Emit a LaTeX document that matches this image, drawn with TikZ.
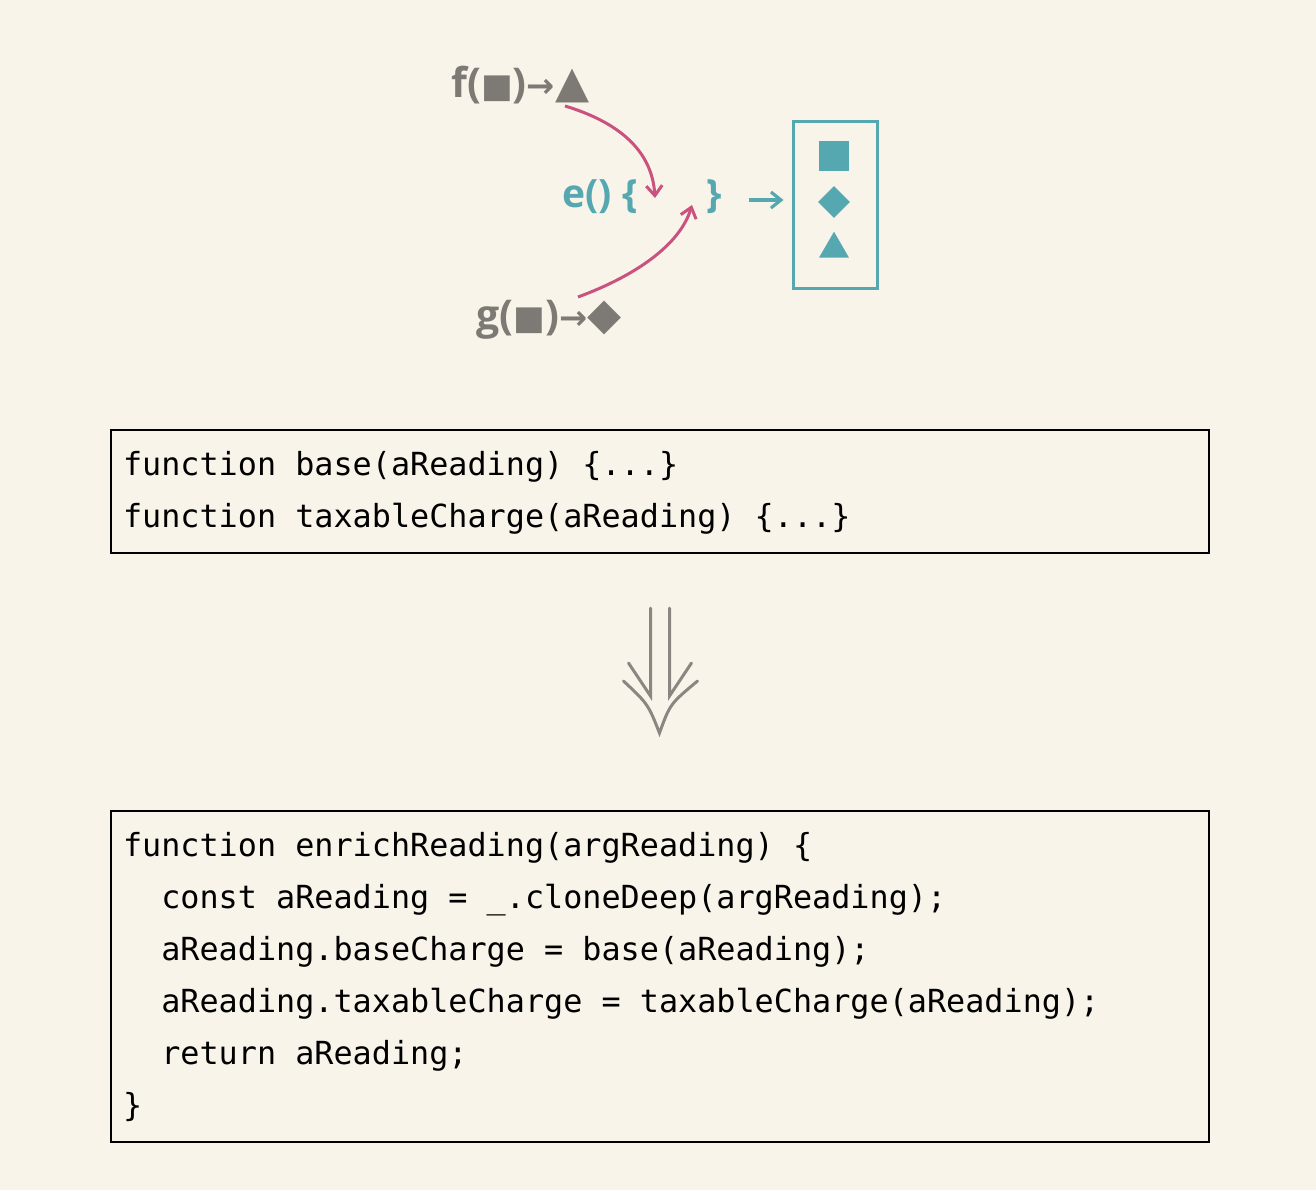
\documentclass[tikz,border=0pt]{standalone}
\usepackage{fontspec}
\setmainfont{Open Sans}
\newfontfamily\symfont{DejaVu Sans}[Scale=0.82]
\newfontfamily\bigsymfont{DejaVu Sans}[Scale=1.08]
\newfontfamily\codefont{DejaVu Sans Mono}
\usetikzlibrary{arrows.meta,positioning,shapes.geometric,calc}
\definecolor{paper}{HTML}{F8F4EA}
\definecolor{fgray}{HTML}{7D7974}
\definecolor{epink}{HTML}{C9527F}
\definecolor{eteal}{HTML}{55A7B0}
\definecolor{arrgray}{HTML}{8A8782}
\newcommand{\shp}[1]{{\symfont #1}}
\newcommand{\bigshp}[1]{{\bigsymfont #1}}
\newcommand{\ind}{\phantom{cc}}

\begin{document}
\begin{tikzpicture}[x=0.5pt,y=-0.5pt,
 fn/.style={font=\fontsize{20.5pt}{24pt}\selectfont\bfseries, text=fgray, inner sep=0pt},
 ebody/.style={font=\fontsize{19.5pt}{24pt}\selectfont\bfseries, text=eteal, inner sep=0pt},
 code/.style={draw=black, line width=1pt, text width=537pt, inner xsep=6pt,
              font=\codefont\fontsize{15.9pt}{26pt}\selectfont,
              execute at begin node={\spaceskip=0pt\xspaceskip=0pt}},
 feed/.style={-{Straight Barb[length=5pt,width=8pt]}, epink, line width=1.5pt},
 emit/.style={-{Straight Barb[length=5pt,width=8pt]}, eteal, line width=1.6pt},
 tok/.style={fill=eteal, inner sep=0pt},
 dbl/.style={arrgray, line width=1.5pt, line cap=round},
]
 \fill[paper] (0,0) rectangle (1316,1190);
 \useasboundingbox (0,0) rectangle (1316,1190);

 % the functions and the enriching body
 \node[fn, anchor=west] (flabel) at (451,85) {f(\shp{■})\shp{→}\bigshp{▲}};
 \node[fn, anchor=west] (glabel) at (476,320) {g(\shp{■})\shp{→}\bigshp{◆}};
 \node[ebody, anchor=west] (eopen) at (562,197) {e() \{};
 \node[ebody, anchor=west] (eclose) at (706,197) {\}};
 \coordinate (slot) at (672,200);

 \draw[feed] ($(flabel.west)+(114,21)$) .. controls (618,122) and (652,150) .. ($(slot)+(-17,-2)$);
 \draw[feed] ($(glabel.west)+(102,-23)$) .. controls (635,276) and (680,245) .. ($(slot)+(20,5)$);

 % resulting record
 \node[draw=eteal, line width=1.5pt, minimum width=42pt, minimum height=83.5pt] (resbox) at (835,204.5) {};
 \node[tok, minimum size=15pt] (rsq) at (834,155.5) {};
 \node[tok, diamond, minimum size=16pt] (rdia) at (834,202) {};
 \node[tok, regular polygon, regular polygon sides=3, minimum size=17.3pt] (rtri) at (834,249) {};
 \draw[emit, shorten <=13.5pt, shorten >=4pt] (eclose.east |- 0,200) -- (resbox.west |- 0,200);

 % code before and after
 \node[code, minimum height=61.5pt] (basebox) at (660,491.5)
   {\begin{tabular}{@{}l@{}}
    function base(aReading) \{...\}\\
    function taxableCharge(aReading) \{...\}
    \end{tabular}};
 \node[code, minimum height=165.5pt] (enrichbox) at (660,976.5)
   {\begin{tabular}{@{}l@{}}
    function enrichReading(argReading) \{\\
    \ind const aReading = \_.cloneDeep(argReading);\\
    \ind aReading.baseCharge = base(aReading);\\
    \ind aReading.taxableCharge = taxableCharge(aReading);\\
    \ind return aReading;\\
    \}
    \end{tabular}};

 % refactoring arrow
 \coordinate (dtop) at ($(basebox.south)+(0,54)$);
 \draw[dbl] ($(dtop)+(-9.5,0)$) -- ++(0,88) -- ++(-22,-33);
 \draw[dbl] ($(dtop)+(9.5,0)$) -- ++(0,88) -- ++(22,-33);
 \draw[dbl] ($(dtop)+(-36.5,73)$) .. controls ($(dtop)+(-12,96)$) .. ($(dtop)+(-0.5,125)$)
   .. controls ($(dtop)+(10,96)$) .. ($(dtop)+(37.5,73)$);
\end{tikzpicture}
\end{document}
